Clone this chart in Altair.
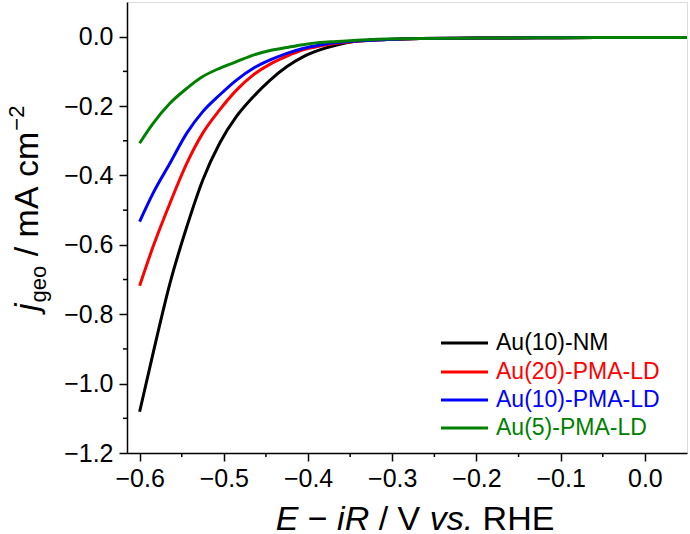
import altair as alt
import pandas as pd

# ---------------- data ----------------
E = [-0.600, -0.584, -0.564, -0.544, -0.525, -0.505, -0.485, -0.465, -0.445, -0.425,
     -0.406, -0.386, -0.366, -0.346, -0.306, -0.267, -0.20, -0.10, 0.0, 0.05]

series_names = ["Au(10)-NM", "Au(20)-PMA-LD", "Au(10)-PMA-LD", "Au(5)-PMA-LD"]
series_colors = ["#000000", "#FF0000", "#0000FF", "#008000"]

j_au10_nm = [-1.081, -0.912, -0.711, -0.548, -0.413, -0.307, -0.230, -0.173, -0.125, -0.086,
             -0.058, -0.038, -0.024, -0.014, -0.008, -0.005, -0.004, -0.003, -0.002, -0.002]
j_au20_pma = [-0.718, -0.605, -0.480, -0.365, -0.278, -0.211, -0.154, -0.110, -0.079, -0.056,
              -0.038, -0.027, -0.019, -0.014, -0.008, -0.005, -0.004, -0.003, -0.002, -0.002]
j_au10_pma = [-0.533, -0.451, -0.365, -0.278, -0.216, -0.168, -0.125, -0.091, -0.067, -0.048,
              -0.034, -0.024, -0.017, -0.013, -0.008, -0.005, -0.004, -0.003, -0.002, -0.002]
j_au5_pma = [-0.307, -0.250, -0.192, -0.149, -0.115, -0.091, -0.072, -0.053, -0.040, -0.031,
             -0.023, -0.017, -0.014, -0.011, -0.007, -0.005, -0.004, -0.003, -0.002, -0.002]

x_ticks = [-0.6, -0.5, -0.4, -0.3, -0.2, -0.1, 0.0]
x_minor = [-0.55, -0.45, -0.35, -0.25, -0.15, -0.05]
y_ticks = [-1.2, -1.0, -0.8, -0.6, -0.4, -0.2, 0.0]
y_minor = [-1.1, -0.9, -0.7, -0.5, -0.3, -0.1]

# ---------------- layout ----------------
W, H = 560, 451
FONT = "Liberation Sans"
TICK_FS = 25
TITLE_FS = 34
SUB_FS = 22
LEG_FS = 23

series_values = [j_au10_nm, j_au20_pma, j_au10_pma, j_au5_pma]
rows = []
for name, vals in zip(series_names, series_values):
    for k, (e, v) in enumerate(zip(E, vals)):
        rows.append({"series": name, "E": e, "j": v, "k": k})
df = pd.DataFrame(rows)

xscale = alt.Scale(domain=[-0.615, 0.05], nice=False, zero=False)
yscale = alt.Scale(domain=[-1.2, 0.1], nice=False, zero=False)

common_axis = dict(
    title=None, grid=False, format=".1f", tickSize=8, tickWidth=1.5, tickColor="black",
    domainColor="black", domainWidth=1.5, labelFontSize=TICK_FS, labelFont=FONT,
    labelColor="black", labelFlush=False, labelOverlap=False,
)
x_axis = alt.Axis(values=x_ticks, labelPadding=5, **common_axis)
y_axis = alt.Axis(values=y_ticks, labelPadding=6, **common_axis)

layers = []
for i, (name, color) in enumerate(zip(series_names, series_colors)):
    sub = df[df["series"] == name]
    layers.append(
        alt.Chart(sub).mark_line(strokeWidth=3, interpolate="monotone", clip=True, color=color).encode(
            x=alt.X("E:Q", scale=xscale, axis=x_axis),
            y=alt.Y("j:Q", scale=yscale, axis=y_axis),
            order=alt.Order("k:Q"),
        )
    )

# minor ticks
layers.append(
    alt.Chart(pd.DataFrame({"E": x_minor})).mark_rule(color="black", strokeWidth=1.5).encode(
        x=alt.X("E:Q", scale=xscale, axis=x_axis), y=alt.value(H), y2=alt.value(H + 4)
    )
)
layers.append(
    alt.Chart(pd.DataFrame({"j": y_minor})).mark_rule(color="black", strokeWidth=1.5).encode(
        y=alt.Y("j:Q", scale=yscale, axis=y_axis), x=alt.value(0), x2=alt.value(-4)
    )
)

# Arial / Liberation Sans advance widths (per 1000 em)
ADV = {" ": 278, "E": 667, "\u2212": 584, "i": 222, "R": 722, "/": 278, "V": 667, "v": 500,
       "s": 500, ".": 278, "H": 722, "j": 222, "g": 556, "e": 556, "o": 556, "m": 833,
       "A": 667, "c": 500, "2": 556}


def width(txt, fs):
    return sum(ADV[ch] for ch in txt) * fs / 1000.0


def text_layer(txt, x, y, fs, style="normal", angle=0, color="black", baseline="alphabetic"):
    return alt.Chart(pd.DataFrame({"t": [txt]})).mark_text(
        font=FONT, fontSize=fs, fontStyle=style, align="left", baseline=baseline,
        angle=angle, color=color,
    ).encode(text="t:N", x=alt.value(x), y=alt.value(y))


# x-axis title: E − iR / V vs. RHE
x_pieces = [("E", "italic"), (" ", None), ("\u2212", "normal"), (" ", None), ("iR", "italic"),
            (" ", None), ("/", "normal"), (" ", None), ("V", "normal"), (" ", None),
            ("vs.", "italic"), (" ", None), ("RHE", "normal")]
total = sum(width(t, TITLE_FS) for t, _ in x_pieces)
cx = 288
pos = cx - total / 2
for t, st in x_pieces:
    if st is not None:
        layers.append(text_layer(t, pos, 528, TITLE_FS, st))
    pos += width(t, TITLE_FS)

# y-axis title: j_geo / mA cm^-2 (rotated, reading upward)
y0 = 309
off = 0.0
base_x = -89
layers.append(text_layer("j", base_x, y0 - off, TITLE_FS, "italic", angle=270))
off += width("j", TITLE_FS) + 1
layers.append(text_layer("geo", base_x + 8, y0 - off, SUB_FS, "normal", angle=270))
off += width("geo", SUB_FS) + width(" ", TITLE_FS)
layers.append(text_layer("/", base_x, y0 - off, TITLE_FS, "normal", angle=270))
off += width("/ ", TITLE_FS)
layers.append(text_layer("mA", base_x, y0 - off, TITLE_FS, "normal", angle=270))
off += width("mA ", TITLE_FS)
layers.append(text_layer("cm", base_x, y0 - off, TITLE_FS, "normal", angle=270))
off += width("cm", TITLE_FS) + 1
layers.append(text_layer("\u22122", base_x - 14, y0 - off, SUB_FS, "normal", angle=270))

# legend
leg_y = [341, 370, 398, 426]
for name, color, ly in zip(series_names, series_colors, leg_y):
    layers.append(
        alt.Chart(pd.DataFrame({"n": [name]})).mark_rule(color=color, strokeWidth=3).encode(
            x=alt.value(314), x2=alt.value(361), y=alt.value(ly)
        )
    )
    layers.append(text_layer(name, 369, ly, LEG_FS, "normal", color=color, baseline="middle"))

chart = alt.layer(*layers).properties(
    width=W, height=H,
    padding={"left": 127, "top": 2, "right": 3, "bottom": 81},
    autosize="none",
).configure_view(stroke="black", strokeWidth=1.5).configure(background="white")

chart.save("out.html", embed_options={"renderer": "svg", "actions": False})
